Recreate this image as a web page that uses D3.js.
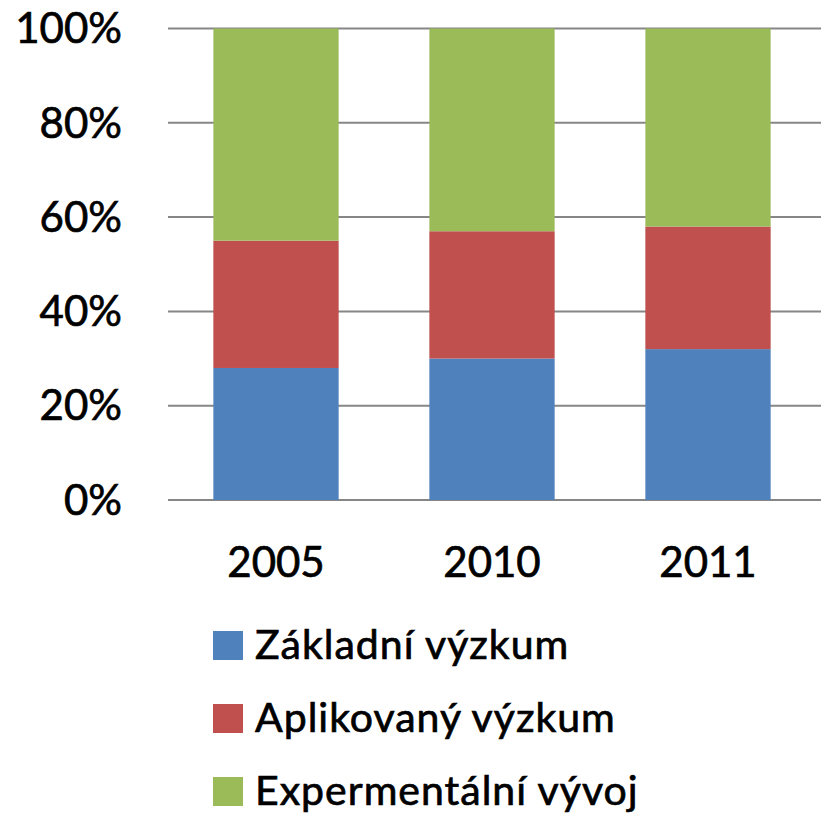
<!DOCTYPE html>
<html>
<head>
<meta charset="utf-8">
<script src="https://cdn.jsdelivr.net/npm/d3@7"></script>
<style>
  body { margin: 0; background: #fff; }
  text { font-family: Lato, "Open Sans", sans-serif; fill: #000; stroke: #000; stroke-width: 0.7px; }
</style>
</head>
<body>
<script>
// data (percent shares)
var years = ["2005", "2010", "2011"];
var zakladni = [28, 30, 32];
var aplikovany = [27, 27, 26];
var experimentalni = [45, 43, 42];
var seriesNames = ["Základní výzkum", "Aplikovaný výzkum", "Expermentální vývoj"];
var seriesColors = ["#4f81bd", "#c0504d", "#9bbb59"];
var yTicks = [0, 20, 40, 60, 80, 100];

var width = 821, height = 814;

var svg = d3.select("body").append("svg")
    .attr("width", width)
    .attr("height", height);

var rows = years.map(function(y, i) {
    return { year: y, s0: zakladni[i], s1: aplikovany[i], s2: experimentalni[i] };
});

var stack = d3.stack().keys(["s0", "s1", "s2"]);
var stacked = stack(rows);

var x = d3.scaleBand()
    .domain(years)
    .range([168, 816])
    .paddingInner(0.42)
    .paddingOuter(0.21);

var y = d3.scaleLinear()
    .domain([0, 100])
    .range([500, 28.5]);

// gridlines
svg.append("g")
    .selectAll("line")
    .data(yTicks)
    .enter()
    .append("line")
    .attr("x1", 168)
    .attr("x2", width)
    .attr("y1", function(d) { return y(d); })
    .attr("y2", function(d) { return y(d); })
    .attr("stroke", "#868686")
    .attr("stroke-width", 2);

// y labels
svg.append("g")
    .selectAll("text")
    .data(yTicks)
    .enter()
    .append("text")
    .attr("x", 122)
    .attr("y", function(d) { return y(d); })
    .attr("dy", "0.35em")
    .attr("text-anchor", "end")
    .attr("font-size", 42)
    .text(function(d) { return d + "%"; });

// bars
svg.append("g")
    .selectAll("g")
    .data(stacked)
    .enter()
    .append("g")
    .attr("fill", function(d, i) { return seriesColors[i]; })
    .selectAll("rect")
    .data(function(d) { return d; })
    .enter()
    .append("rect")
    .attr("x", function(d) { return x(d.data.year); })
    .attr("width", x.bandwidth())
    .attr("y", function(d) { return y(d[1]); })
    .attr("height", function(d) { return y(d[0]) - y(d[1]); });

// x labels
svg.append("g")
    .selectAll("text")
    .data(years)
    .enter()
    .append("text")
    .attr("x", function(d) { return x(d) + x.bandwidth() / 2; })
    .attr("y", 577)
    .attr("text-anchor", "middle")
    .attr("font-size", 42)
    .text(function(d) { return d; });

// legend
var legend = svg.append("g")
    .selectAll("g")
    .data(seriesNames)
    .enter()
    .append("g")
    .attr("transform", function(d, i) { return "translate(213," + (631 + i * 73) + ")"; });

legend.append("rect")
    .attr("width", 30)
    .attr("height", 29)
    .attr("fill", function(d, i) { return seriesColors[i]; });

legend.append("text")
    .attr("x", 42)
    .attr("y", 28)
    .attr("font-size", 41)
    .attr("letter-spacing", 1)
    .text(function(d) { return d; });
</script>
</body>
</html>
